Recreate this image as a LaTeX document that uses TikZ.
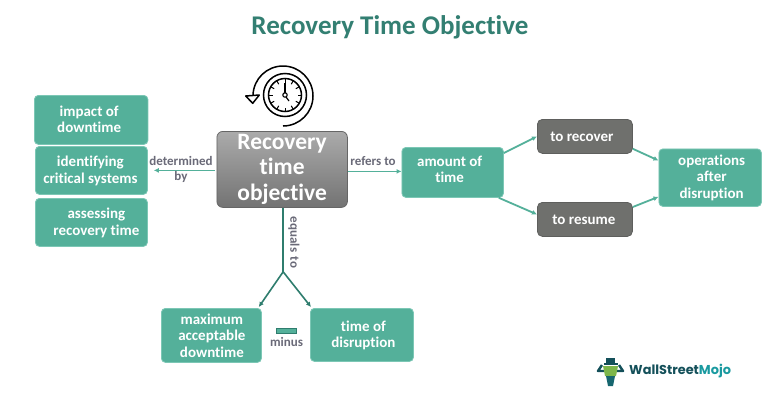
\documentclass[tikz,border=0pt]{standalone}
\usepackage{fontspec}
\setmainfont[Ligatures=NoCommon]{Carlito}
\newfontfamily\logofont{Poppins}
\usetikzlibrary{arrows.meta,calc,shapes.geometric}
\definecolor{teal1}{HTML}{54B09A}
\definecolor{tealedge}{HTML}{7CC7B5}
\definecolor{tealdark}{HTML}{2F7D6E}
\definecolor{titlecol}{HTML}{337F72}
\definecolor{darkbox}{HTML}{6F706D}
\definecolor{lblgrey}{HTML}{6A6A78}
\definecolor{logodark}{HTML}{14505A}
\definecolor{logoteal}{HTML}{1A9AA0}
\definecolor{logogreen}{HTML}{7DB64A}
\tikzset{
 x=1pt,y=-1pt,
 tealbox/.style={draw=tealedge,line width=0.8pt,fill=teal1,rounded corners=4pt,inner sep=0pt,anchor=north west},
 darkboxs/.style={draw=darkbox!85!black,line width=0.8pt,fill=darkbox,rounded corners=5pt,inner sep=0pt,anchor=north west},
 mainbox/.style={draw=black!60,line width=0.8pt,top color=black!33,bottom color=black!55,rounded corners=6pt,inner sep=0pt,anchor=north west},
 boxtext/.style={text=white,align=center,inner sep=0pt,font=\fontsize{15}{16.4}\selectfont\bfseries},
 maintext/.style={text=white,align=center,inner sep=0pt,font=\fontsize{23.5}{25.5}\selectfont\bfseries},
 lightarrow/.style={draw=teal1,line width=1.8pt,-{Latex[length=5pt,width=5pt]}},
 darkarrow/.style={draw=tealdark,line width=1.6pt,-{Latex[length=5pt,width=5pt]}},
 linklabel/.style={text=lblgrey,inner sep=0pt,font=\fontsize{13}{15}\selectfont\bfseries},
 iconline/.style={draw=black,line width=1.5pt},
}
\begin{document}
\begin{tikzpicture}
\useasboundingbox (0,0) rectangle (780,402);
\fill[white] (0,0) rectangle (780,402);
\node[font=\fontsize{27}{30}\selectfont\bfseries,text=titlecol,inner sep=0pt] (title) at (390,27) {Recovery Time Objective};

% boxes
\node[tealbox,minimum width=113.5pt,minimum height=49pt,label={[boxtext,name=impactT,xshift=-2pt,yshift=0.5pt]center:impact of\\downtime}] (impact) at (34,95) {};
\node[tealbox,minimum width=112pt,minimum height=48pt,label={[boxtext,name=identifyT,xshift=-1pt,yshift=-0.5pt]center:identifying\\critical systems}] (identify) at (35,146) {};
\node[tealbox,minimum width=112pt,minimum height=48pt,label={[boxtext,name=assessT,xshift=5pt,yshift=-0.5pt]center:assessing\\recovery time}] (assess) at (35,198) {};
\node[mainbox,minimum width=130.5pt,minimum height=76pt,label={[maintext,name=mainT,yshift=0.5pt]center:Recovery\\time\\objective}] (main) at (216.5,131) {};
\node[tealbox,minimum width=101.5pt,minimum height=50pt,label={[boxtext,name=amountT,xshift=-3pt,yshift=3pt]center:amount of\\time}] (amount) at (401.5,147) {};
\node[darkboxs,minimum width=95pt,minimum height=34pt,label={[boxtext,name=recoverT,xshift=-3pt]center:to recover}] (recover) at (537,119) {};
\node[darkboxs,minimum width=95pt,minimum height=34pt,label={[boxtext,name=resumeT,xshift=-1pt]center:to resume}] (resume) at (537,202) {};
\node[tealbox,minimum width=102.5pt,minimum height=57.5pt,label={[boxtext,name=opsT,xshift=1.5pt]center:operations\\after\\disruption}] (ops) at (658.5,148.5) {};
\node[tealbox,minimum width=100pt,minimum height=54pt,label={[boxtext,name=maxdT,xshift=0.5pt]center:maximum\\acceptable\\downtime}] (maxd) at (161,308) {};
\node[tealbox,minimum width=103pt,minimum height=53pt,label={[boxtext,name=disrT,xshift=1.5pt,yshift=-0.5pt]center:time of\\disruption}] (disr) at (310,308) {};

% connectors
\coordinate (fork) at ($(main.south)+(1,64)$);
\draw[lightarrow] ($(main.west)+(-2,1)$) -- ($(identify.east)+(6,0)$);
\draw[lightarrow] ($(main.east)+(0,2)$) -- ($(amount.west)+(0,-1)$);
\draw[lightarrow] ($(amount.north east)+(0,6)$) -- ($(recover.west)+(0,0)$);
\draw[lightarrow] ($(amount.south east)+(-5,0)$) -- ($(resume.west)+(0,-5)$);
\draw[lightarrow] ($(recover.south east)+(0,-5)$) -- ($(ops.north west)+(0,12)$);
\draw[lightarrow] ($(resume.north east)+(0,5)$) -- ($(ops.south west)+(0,-10)$);
\draw[draw=tealdark,line width=1.6pt] ($(main.south)+(1,0)$) -- (fork);
\draw[darkarrow] (fork) -- ($(maxd.north east)+(-3,-1)$);
\draw[darkarrow] (fork) -- ($(disr.north west)+(1,-1)$);

% link labels
\node[linklabel] (lbldet) at (181,161) {determined};
\node[linklabel] (lblby) at (181,177) {by};
\node[linklabel] (lblref) at (373,161) {refers to};
\node[linklabel,rotate=-90] (lbleq) at (294,242.5) {equals\hspace{1.5pt} to};
\node[draw=tealdark,line width=0.8pt,fill=teal1,minimum width=20pt,minimum height=5pt,inner sep=0pt] (minusbar) at (286.5,330.5) {};
\node[linklabel] (lblminus) at (286.5,341.5) {minus};

% clock icon
\draw[iconline] (283,126) arc[start angle=90,end angle=-178,radius=30];
\draw[iconline,fill=white,line join=round] (245.7,96) -- (259.3,95) -- (252.7,103.3) -- cycle;
\draw[iconline] (285,95) circle[radius=21.5];
\draw[iconline] (285,95) circle[radius=16.5];
\foreach \a in {0,30,...,330}{\draw[draw=black,line width=1pt] ($(285,95)+(\a:16)$) -- ($(285,95)+(\a:12.5)$);}
\draw[draw=black,line width=1.2pt] (285,83) -- (285,93);
\draw[draw=black,line width=1.2pt] (286,97) -- (289,101);
\draw[draw=black,line width=1.1pt,fill=white] (285,95) circle[radius=2.2];

% logo
\draw[draw=logodark,line width=2.4pt,line join=round] (604,371) -- (598,371) -- (602,365);
\draw[draw=logodark,line width=2.4pt,line join=round] (617,371) -- (623,371) -- (619,365);
\fill[logogreen] (603,366) -- (618,366) -- (616,376) -- (605,376) -- cycle;
\fill[logodark!70!logoteal] (606,376) -- (615,376) -- (613,386) -- (608,386) -- cycle;
\fill[logodark] (606,358) rectangle (615,363);
\fill[logodark] (603.5,363) rectangle (617.5,365);
\node[font=\logofont\fontsize{12.9}{15}\selectfont\bfseries,inner sep=0pt,anchor=west] (logo) at (629,371.5) {\textcolor{logodark}{WallStreet}\textcolor{logoteal}{Mojo}};
\end{tikzpicture}
\end{document}
